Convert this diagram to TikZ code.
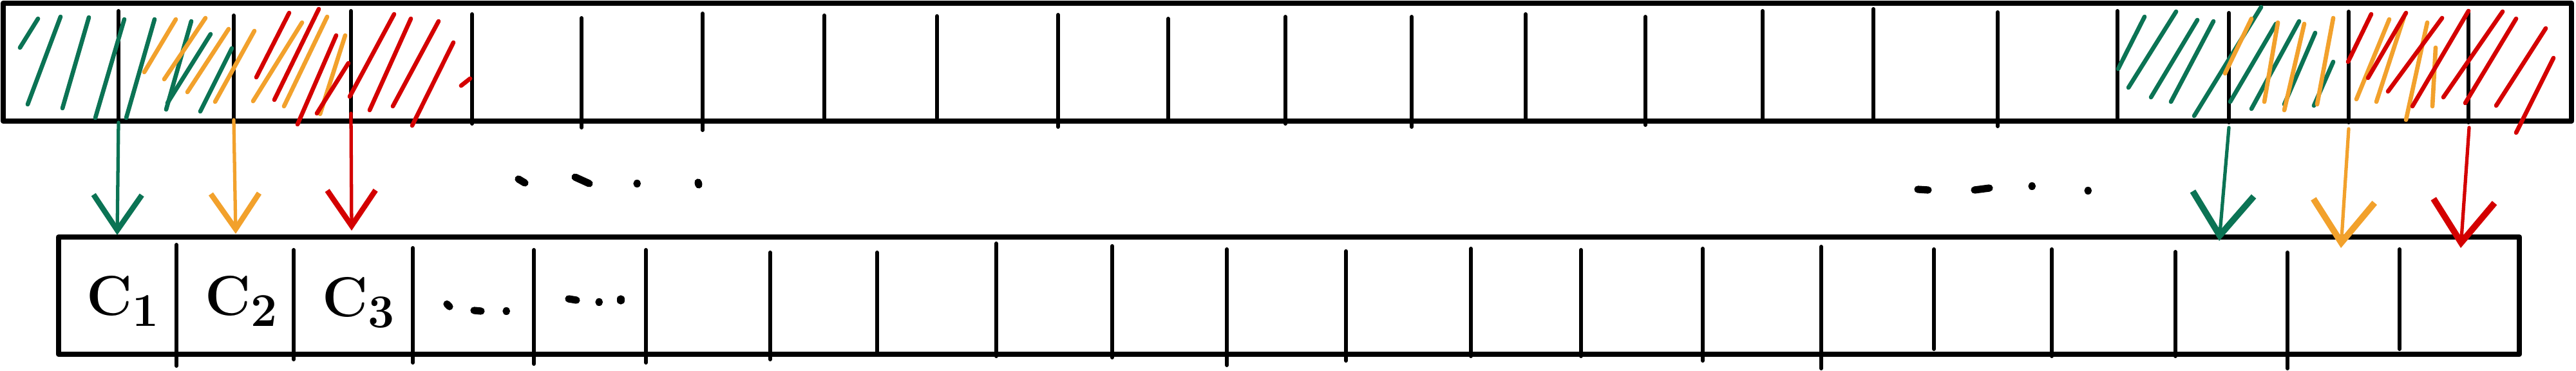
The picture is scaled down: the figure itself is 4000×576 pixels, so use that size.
\documentclass[tikz,border=0pt]{standalone}
\usepackage{tikz}
\usetikzlibrary{arrows.meta}
\definecolor{hgreen}{HTML}{0B7354}
\definecolor{horange}{HTML}{F2A12C}
\definecolor{hred}{HTML}{D40000}
\begin{document}
\begin{tikzpicture}[x=0.01cm,y=-0.01cm,line cap=round,line join=round,
    box/.style={draw,line width=2.4pt},
    sep/.style={line width=1.7pt},
    hatch/.style={line width=1.9pt},
    dotmark/.style={line width=3.2pt},
    flow/.style={line width=1.5pt,-{Straight Barb[length=5.5mm,width=7.5mm,line width=2.4pt]}},
    bigflow/.style={flow,-{Straight Barb[length=6.5mm,width=9.5mm,line width=2.8pt]}},
    lbl/.style={inner sep=0pt,font=\fontsize{32}{36}\selectfont}
  ]
  \useasboundingbox (0,0) rectangle (4000,576);

  % input buffer
  \draw[box] (5,5) rectangle (3993,188);
  \foreach \x/\a/\b in {184/17/188,363/24/190,545/17/188,733/22/192,903/28/198,
      1091/21/202,1280/24/183,1455/25/183,1643/23/197,1814/29/185,1996/26/192,
      2192/26/197,2369/22/185,2555/26/194,2737/17/185,2909/14/185,3102/19/196,
      3288/17/183,3461/20/190,3647/18/190,3833/17/190}
    \draw[sep] (\x,\a) -- (\x,\b);

  % output row
  \draw[box] (91,368) rectangle (3912,550);
  \foreach \x/\a/\b in {274/380/568,456/388/558,641/385/563,829/388/565,
      1003/388/563,1196/392/558,1362/392/548,1547/378/553,1727/382/555,
      1905/387/567,2090/390/560,2284/386/553,2455/388/553,2644/386/560,
      2828/383/572,3003/387/542,3186/387/553,3378/391/553,3552/392/572,3726/387/542}
    \draw[sep] (\x,\a) -- (\x,\b);

  % hatching, left
  \foreach \p/\q/\r/\s in {31/74/59/29,43/162/94/26,97/168/138/27,148/183/193/30,
      196/183/240/30,258/170/297/33,311/173/360/75,260/160/327/53}
    \draw[hatch,hgreen] (\p,\q) -- (\r,\s);
  \foreach \p/\q/\r/\s in {224/112/273/30,255/123/319/28,291/143/355/45,
      334/158/395/48,393/157/469/35,441/165/508/26,497/177/536/55}
    \draw[hatch,horange] (\p,\q) -- (\r,\s);
  \foreach \p/\q/\r/\s in {398/120/449/20,426/155/495/14,462/193/522/55,
      492/176/541/98,543/150/612/22,574/171/638/29,610/165/681/33,640/195/704/66,
      716/133/730/122}
    \draw[hatch,hred] (\p,\q) -- (\r,\s);

  % hatching, right
  \foreach \p/\q/\r/\s in {3289/107/3330/26,3305/136/3379/18,3340/151/3412/31,
      3371/158/3437/33,3407/180/3511/11,3463/158/3534/37,3496/169/3570/33,
      3547/162/3595/51,3593/164/3623/96}
    \draw[hatch,hgreen] (\p,\q) -- (\r,\s);
  \foreach \p/\q/\r/\s in {3455/114/3496/29,3516/158/3537/35,3547/171/3578/37,
      3598/162/3623/28,3659/154/3710/30,3690/158/3733/26,3736/186/3769/35,
      3777/165/3782/74}
    \draw[hatch,horange] (\p,\q) -- (\r,\s);
  \foreach \p/\q/\r/\s in {3646/96/3682/22,3677/121/3736/20,3708/142/3792/28,
      3746/165/3833/17,3794/151/3886/18,3828/160/3907/29,3876/164/3953/44,
      3907/206/3965/90}
    \draw[hatch,hred] (\p,\q) -- (\r,\s);

  % labels
  \node[lbl] (c1) at (191,468) {$\mathbf{C}_{\mathbf{1}}$};
  \node[lbl] (c2) at (375,468) {$\mathbf{C}_{\mathbf{2}}$};
  \node[lbl] (c3) at (557,470) {$\mathbf{C}_{\mathbf{3}}$};

  % dots
  \draw[dotmark] (694,472) -- (698,476);
  \draw[dotmark] (736,482) -- (747,483);
  \draw[dotmark] (786,483) -- (786.5,483);
  \draw[dotmark] (883,464) -- (895,466);
  \draw[dotmark] (930,469) -- (930.5,469);
  \draw[dotmark] (964,464) -- (964,467);
  \draw[dotmark] (805,278) -- (815,284);
  \draw[dotmark] (893,275) -- (915,285);
  \draw[dotmark] (989,285) -- (989.5,285);
  \draw[dotmark] (1084,283) -- (1085,287);
  \draw[dotmark] (2978,294) -- (2994,295);
  \draw[dotmark] (3066,295) -- (3089,292);
  \draw[dotmark] (3155,289) -- (3155.5,289);
  \draw[dotmark] (3242,296) -- (3242.5,296);

  % arrows
  \coordinate (gsa) at (184,190);
  \coordinate (gea) at (182,365);
  \coordinate (osa) at (363,186);
  \coordinate (oea) at (366,363);
  \coordinate (rsa) at (545,176);
  \coordinate (rea) at (546,358);
  \coordinate (gsb) at (3461,198);
  \coordinate (geb) at (3446,374);
  \coordinate (osb) at (3647,200);
  \coordinate (oeb) at (3635,385);
  \coordinate (rsb) at (3834,198);
  \coordinate (reb) at (3821,385);
  \draw[flow,hgreen] (gsa) -- (gea);
  \draw[flow,horange] (osa) -- (oea);
  \draw[flow,hred] (rsa) -- (rea);
  \draw[bigflow,hgreen] (gsb) -- (geb);
  \draw[bigflow,horange] (osb) -- (oeb);
  \draw[bigflow,hred] (rsb) -- (reb);
\end{tikzpicture}
\end{document}
